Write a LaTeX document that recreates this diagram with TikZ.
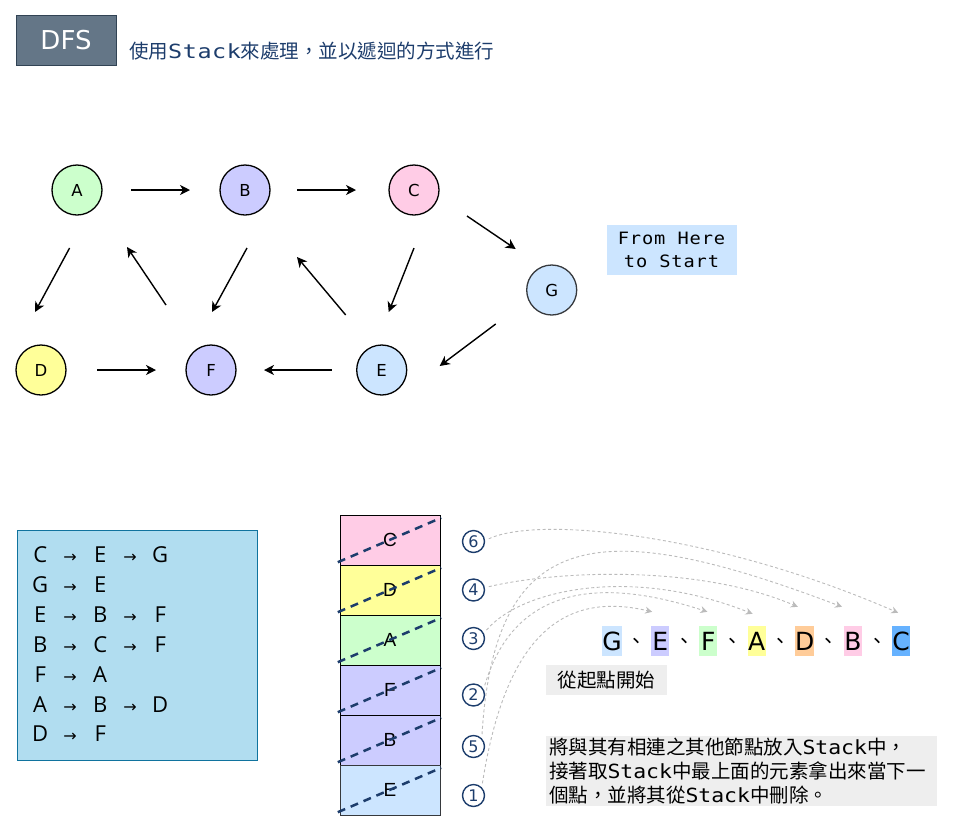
\documentclass[tikz,border=0pt]{standalone}
\usepackage{fontspec}
\usepackage{tikz}
\usetikzlibrary{arrows.meta, positioning}

\setmainfont{DejaVu Sans}
\newfontfamily\cjk{Noto Sans CJK TC}
\newfontfamily\monowide[FakeStretch=1.2, LetterSpace=3]{DejaVu Sans Mono}
\newfontfamily\monotight[FakeStretch=1.1]{DejaVu Sans Mono}
\newfontfamily\monohint[FakeStretch=1.1, LetterSpace=5]{DejaVu Sans Mono}
\newfontfamily\opensans{Open Sans}
\newfontfamily\arial{Liberation Sans}

\definecolor{cGreen}{HTML}{CCFFCC}
\definecolor{cLilac}{HTML}{CCCCFF}
\definecolor{cPink}{HTML}{FFCCE6}
\definecolor{cBlue}{HTML}{CCE5FF}
\definecolor{cYellow}{HTML}{FFFF99}
\definecolor{cOrange}{HTML}{FFCC99}
\definecolor{cSky}{HTML}{66B2FF}
\definecolor{slate}{HTML}{647687}
\definecolor{slateEdge}{HTML}{314354}
\definecolor{navy}{HTML}{1D3D6C}
\definecolor{gEdge}{HTML}{36393D}
\definecolor{listBlue}{HTML}{B1DDF0}
\definecolor{listEdge}{HTML}{10739E}
\definecolor{noteGray}{HTML}{EEEEEE}
\definecolor{flowGray}{HTML}{BBBBBB}

\newcommand{\cell}[1]{\makebox[30pt]{#1}}
\newcommand{\toarr}{\makebox[30pt]{\rmfamily\fontsize{16}{16}\selectfont →}}

\begin{document}
\begin{tikzpicture}[x=1pt, y=1pt, >={Stealth[length=10pt,width=10pt,inset=3pt]},
  vertex/.style={circle, draw, line width=1.3pt, minimum size=50pt, inner sep=0pt, font=\fontsize{16.5}{18}\selectfont},
  edge/.style={->, line width=1.4pt},
  stackbox/.style={draw, minimum width=100pt, minimum height=50pt, inner sep=0pt, font=\arial\fontsize{19}{20}\selectfont},
  popline/.style={draw=navy, line width=2.5pt, dash pattern=on 8pt off 6pt},
  numring/.style={circle, draw=navy, line width=1.4pt, minimum size=22pt, inner sep=0pt, text=navy, font=\fontsize{16}{16}\selectfont},
  seqbox/.style={minimum width=18pt, minimum height=30pt, inner sep=0pt, font=\fontsize{25}{26}\selectfont},
  flow/.style={draw=flowGray, line width=0.9pt, dash pattern=on 3pt off 2.5pt, -{Stealth[length=7pt,width=7pt]}, shorten <=4pt},
  note/.style={fill=noteGray, inner sep=0pt, font=\cjk\fontsize{19.5}{24}\selectfont},
  listrow/.style={anchor=west, inner sep=0pt, font=\opensans\fontsize{22}{24}\selectfont}]

  \useasboundingbox (0,0) rectangle (972,-831);

  % title
  \node[fill=slate, draw=slateEdge, minimum width=100pt, minimum height=50pt, text=white,
        font=\fontsize{26}{28}\selectfont] (title) at (66,-40) {DFS};
  \node[anchor=base west, inner sep=0pt, text=navy, font=\cjk\fontsize{19.5}{22}\selectfont] (subtitle)
        at (129,-58) {使用{\monowide Stack}來處理，並以遞迴的方式進行};

  % graph
  \node[vertex, fill=cGreen] (A) at (77,-190) {A};
  \node[vertex, fill=cLilac] (B) at (245,-190) {B};
  \node[vertex, fill=cPink] (C) at (414,-190) {C};
  \node[vertex, fill=cBlue, draw=gEdge] (G) at (551.7,-290) {G};
  \node[vertex, fill=cYellow] (D) at (41,-370) {D};
  \node[vertex, fill=cLilac] (F) at (211,-370) {F};
  \node[vertex, fill=cBlue] (E) at (381.7,-370) {E};

  \draw[edge] ([xshift=54]A.center) -- ([xshift=-55]B.center);
  \draw[edge] ([xshift=52]B.center) -- ([xshift=-58]C.center);
  \draw[edge] ([shift={(53,-26)}]C.center) -- ([shift={(-36,41)}]G.center);
  \draw[edge] ([shift={(-7.4,-58)}]A.center) -- ([shift={(-6,58)}]D.center);
  \draw[edge] ([shift={(-45,65)}]F.center) -- ([shift={(50,-57)}]A.center);
  \draw[edge] ([shift={(2,-58)}]B.center) -- ([shift={(1,58)}]F.center);
  \draw[edge] ([shift={(0,-58)}]C.center) -- ([shift={(7,58)}]E.center);
  \draw[edge] ([shift={(-36,55)}]E.center) -- ([shift={(52,-67)}]B.center);
  \draw[edge] ([shift={(-56,-34)}]G.center) -- ([shift={(58,4)}]E.center);
  \draw[edge] ([xshift=56]D.center) -- ([xshift=-55]F.center);
  \draw[edge] ([xshift=-50]E.center) -- ([xshift=53]F.center);

  \node[fill=cBlue, minimum width=130pt, minimum height=50pt, inner sep=0pt, align=center,
        font=\monohint\fontsize{17}{23}\selectfont] (hint) at (671.5,-250) {From Here\\to Start};

  % adjacency list
  \node[draw=listEdge, fill=listBlue, minimum width=240pt, minimum height=230pt] (adj) at (136.7,-645) {};
  \node[listrow] (row1) at (25,-555) {\cell{C}\toarr\cell{E}\toarr\cell{G}};
  \node[listrow] (row2) at (25,-585) {\cell{G}\toarr\cell{E}};
  \node[listrow] (row3) at (25,-615) {\cell{E}\toarr\cell{B}\toarr\cell{F}};
  \node[listrow] (row4) at (25,-645) {\cell{B}\toarr\cell{C}\toarr\cell{F}};
  \node[listrow] (row5) at (25,-675) {\cell{F}\toarr\cell{A}};
  \node[listrow] (row6) at (25,-705) {\cell{A}\toarr\cell{B}\toarr\cell{D}};
  \node[listrow] (row7) at (25,-734) {\cell{D}\toarr\cell{F}};

  % stack
  \node[stackbox, fill=cPink] (sC) at (390,-540) {C};
  \node[stackbox, fill=cYellow] (sD) at (390,-590) {D};
  \node[stackbox, fill=cGreen] (sA) at (390,-640) {A};
  \node[stackbox, fill=cLilac] (sF) at (390,-690) {F};
  \node[stackbox, fill=cLilac] (sB) at (390,-740) {B};
  \node[stackbox, fill=cBlue, draw=gEdge] (sE) at (390,-790) {E};
  \foreach \s in {sC,sD,sA,sF,sB,sE}
    \draw[popline] ([shift={(-2,3)}]\s.south west) -- ([shift={(1,-3)}]\s.north east);

  \node[numring] (n6) at (473.5,-541.5) {6};
  \node[numring] (n4) at (473.5,-590) {4};
  \node[numring] (n3) at (473.5,-638.5) {3};
  \node[numring] (n2) at (473.5,-695) {2};
  \node[numring] (n5) at (473.5,-746.5) {5};
  \node[numring] (n1) at (473.5,-795.5) {1};

  % visiting order
  \foreach \n/\c [count=\i from 0] in {G/cBlue,E/cLilac,F/cGreen,A/cYellow,D/cOrange,B/cPink,C/cSky}
    \node[seqbox, fill=\c] (r\n) at ({612+48.2*\i},-641) {\n};
  \foreach \i in {0,...,5}
    \node[inner sep=0pt, font=\cjk\fontsize{20}{20}\selectfont] (sep\i) at ({636+48.2*\i},-643) {、};

  \draw[flow] (n1.45) .. controls (505,-640) and (560,-590) .. ([shift={(-8,14)}]rE.north);
  \draw[flow] (n2.30) .. controls (510,-600) and (580,-570) .. ([shift={(-1,14)}]rF.north);
  \draw[flow] (n3.27) .. controls (520,-590) and (630,-565) .. ([shift={(-4,12)}]rA.north);
  \draw[flow] (n4.12) .. controls (560,-570) and (700,-565) .. ([shift={(-7,19)}]rD.north);
  \draw[flow] (n5.45) .. controls (495,-525) and (600,-515) .. ([shift={(-11,19)}]rB.north);
  \draw[flow] (n6.5) .. controls (540,-515) and (720,-535) .. ([shift={(-3,13)}]rC.north);

  % notes
  \node[note, minimum width=121pt, minimum height=30pt] (start) at (606.5,-680) {從起點開始};
  \node[note, text width=385pt, inner xsep=3pt, minimum height=70pt, align=left] (howto) at (741.5,-771)
    {將與其有相連之其他節點放入{\monotight Stack}中，\\接著取{\monotight Stack}中最上面的元素拿出來當下一\\個點，並將其從{\monotight Stack}中刪除。};
\end{tikzpicture}
\end{document}
